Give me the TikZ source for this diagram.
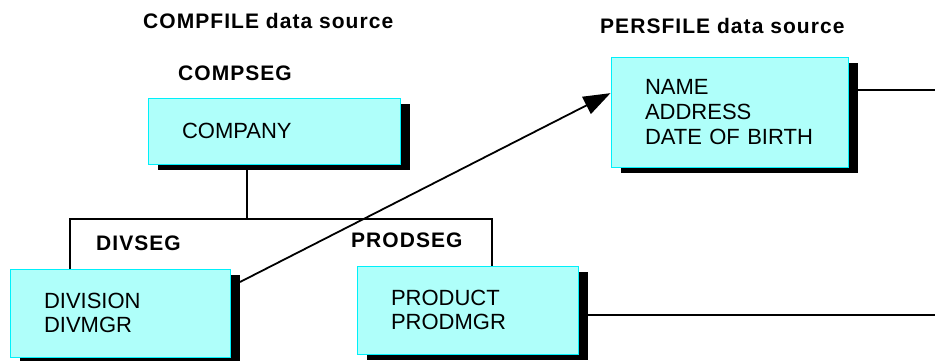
\documentclass[tikz,border=0pt]{standalone}
\usepackage{fontspec}
\setmainfont{Liberation Sans}
\usetikzlibrary{arrows.meta,shadows,backgrounds,calc}
\definecolor{boxfill}{RGB}{175,255,250}
\definecolor{boxline}{RGB}{0,240,250}
\begin{document}
\begin{tikzpicture}[x=1pt,y=-1pt,
  segbox/.style={rectangle, draw=boxline, line width=1pt, fill=boxfill,
    inner xsep=34pt, inner ysep=0pt, align=left,
    font=\fontsize{22}{24.7}\selectfont,
    drop shadow={shadow xshift=10pt, shadow yshift=-6pt, shadow scale=1, fill=black, opacity=1}},
  seglabel/.style={anchor=base west, inner sep=0pt,
    font=\fontsize{21}{24}\selectfont\bfseries\addfontfeature{LetterSpace=5}},
  conn/.style={draw=black, line width=1.3pt},
  arrowconn/.style={draw=black, line width=1.8pt, -{Triangle[length=27pt,width=19pt]}}
]
\useasboundingbox (0,0) rectangle (935,360);

% labels
\node[seglabel] (compfile) at (143,28) {COMPFILE data source};
\node[seglabel] (compseg) at (178,80) {COMPSEG};
\node[seglabel] (persfile) at (600,33) {PERSFILE data source};
\node[seglabel] (divseg) at (96,250) {DIVSEG};
\node[seglabel] (prodseg) at (351,247) {PRODSEG};

% boxes
\node[segbox, text width=184pt, minimum height=66pt] (company) at (274,131) {COMPANY};
\node[segbox, text width=169pt, minimum height=110pt] (persbox) at (729.5,112) {NAME\\ADDRESS\\DATE OF BIRTH};
\node[segbox, text width=152pt, minimum height=88pt] (divbox) at (120,313) {DIVISION\\DIVMGR};
\node[segbox, text width=153pt, minimum height=88pt] (prodbox) at (467.5,310) {PRODUCT\\PRODMGR};

% connector points
\coordinate (junction) at (247,219);
\coordinate (bracketL) at (70,219);
\coordinate (bracketR) at (492,219);
\coordinate (arrstart) at (240,282);
\coordinate (arrtip) at ($(persbox.north west)!0.33!(persbox.south west)$);
\coordinate (persout) at (935,90);
\coordinate (prodout) at (935,315);

\begin{scope}[on background layer]
  \draw[conn] (company.south -| junction) -- (junction);
  \draw[conn] (divbox.north -| bracketL) -- (bracketL) -- (bracketR) -- (prodbox.north -| bracketR);
  \draw[conn] (persout -| persbox.east) -- (persout);
  \draw[conn] (prodout -| prodbox.east) -- (prodout);
\end{scope}
\draw[arrowconn] (arrstart) -- (arrtip);
\end{tikzpicture}
\end{document}
